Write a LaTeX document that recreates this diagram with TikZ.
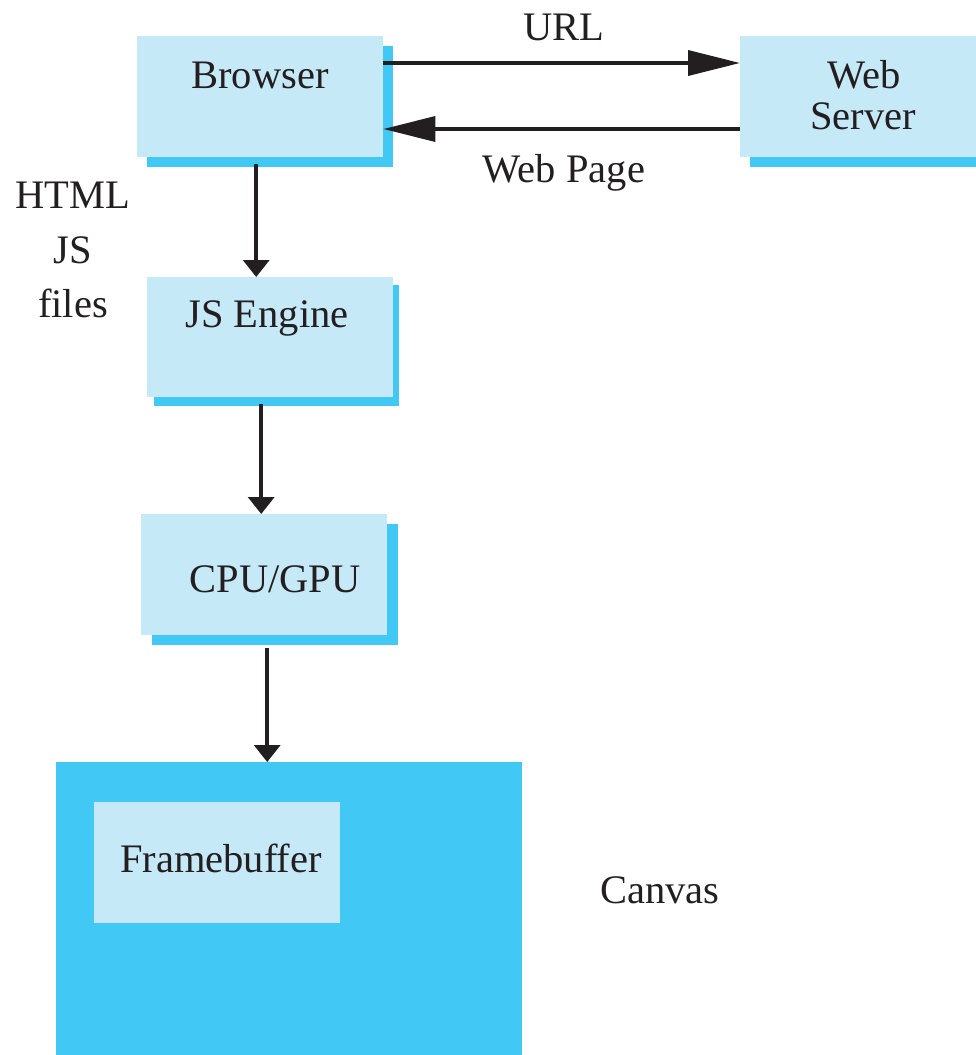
\documentclass[tikz,border=0pt]{standalone}
\usepackage{fontspec}
\setmainfont{Liberation Serif}
\usetikzlibrary{arrows.meta}
\definecolor{lightb}{HTML}{C6E9F8}
\definecolor{darkb}{HTML}{41C8F4}
\definecolor{ink}{HTML}{231F20}
\tikzset{
  box/.style={fill=lightb, draw=none, inner sep=0pt, anchor=north west},
  shadowbox/.style={fill=darkb, draw=none, inner sep=0pt, anchor=north west},
  txt/.style={inner sep=0pt, anchor=base, text=ink, font=\fontsize{40.5}{48}\selectfont},
  conn/.style={draw=ink, line width=3.6pt},
  harrow/.style={conn, -{Triangle[length=52pt, width=25pt]}},
  varrow/.style={conn, -{Triangle[length=17pt, width=26pt]}},
}
\begin{document}
\begin{tikzpicture}[x=1pt, y=-1pt]
\useasboundingbox (0,0) rectangle (976,1055);
% Browser
\node[shadowbox, minimum width=246pt, minimum height=121pt] (browser-s) at (147,46) {};
\node[box, minimum width=246pt, minimum height=121pt] (browser) at (137,36) {};
\node[txt] (browser-t) at (260,88) {Browser};
% Web server
\node[shadowbox, minimum width=226pt, minimum height=121pt] (server-s) at (750,46) {};
\node[box, minimum width=236pt, minimum height=121pt] (server) at (740,36) {};
\node[txt] (server-t1) at (864,88) {Web};
\node[txt] (server-t2) at (863,129) {Server};
% JS Engine
\node[shadowbox, minimum width=245pt, minimum height=121pt] (js-s) at (154,285) {};
\node[box, minimum width=246pt, minimum height=120pt] (js) at (147,277) {};
\node[txt] (js-t) at (267,327) {JS Engine};
% CPU/GPU
\node[shadowbox, minimum width=246pt, minimum height=121pt] (cpu-s) at (152,524) {};
\node[box, minimum width=246pt, minimum height=121pt] (cpu) at (141,514) {};
\node[txt] (cpu-t) at (275,592) {CPU/GPU};
% Canvas
\node[shadowbox, minimum width=466pt, minimum height=293pt] (canvas) at (56,762) {};
\node[box, minimum width=246pt, minimum height=121pt] (fb) at (94,802) {};
\node[txt] (fb-t) at (221,872) {Framebuffer};
\node[txt] (canvas-t) at (660,903) {Canvas};
% labels
\node[txt] (url) at (564,40) {URL};
\node[txt] (page) at (564,182) {Web Page};
\node[txt] (l1) at (73,208) {HTML};
\node[txt] (l2) at (73,263) {JS};
\node[txt] (l3) at (73,317) {files};
% connectors
\draw[harrow] ([yshift=-27pt]browser.north east) -- ([yshift=-27pt]server.north west);
\draw[harrow] ([yshift=-93pt]server.north west) -- ([yshift=-93pt]browser.north east);
\draw[varrow] ([xshift=-4pt,yshift=-7pt]browser.south) -- ([xshift=-4pt]browser.south |- js.north);
\draw[varrow] ([xshift=-9pt,yshift=-7pt]js.south) -- ([xshift=-9pt]js.south |- cpu.north);
\draw[varrow] ([xshift=3pt,yshift=-13pt]cpu.south) -- ([xshift=3pt]cpu.south |- canvas.north);
\end{tikzpicture}
\end{document}
